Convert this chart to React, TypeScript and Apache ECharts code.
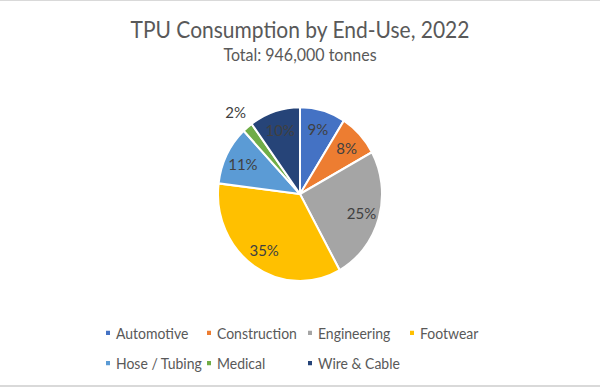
import React, { useEffect, useRef } from "react";
import * as echarts from "echarts";

// ---- data ----
const categories = [
  "Automotive",
  "Construction",
  "Engineering",
  "Footwear",
  "Hose / Tubing",
  "Medical",
  "Wire & Cable",
];
const tonnes = [85000, 76000, 236000, 331000, 104000, 19000, 95000];
const sliceColors = ["#4472C4", "#ED7D31", "#A5A5A5", "#FFC000", "#5B9BD5", "#70AD47", "#264478"];
const outsideLabelCategories = ["Medical"];
const titleText = "TPU Consumption by End-Use, 2022";
const subtitleText = "Total: 946,000 tonnes";

// ---- layout (chart units; the chart is stretched vertically) ----
const W = 600;
const H = 365;
const SCALE_Y = 387 / H;
const legendLeft = [104, 205, 306, 408, 104, 205, 306];
const legendRow = [0, 0, 0, 0, 1, 1, 1];
const legendRowTop = [306, 334.5];
const FONT = "Lato, 'Open Sans', sans-serif";

export default function App() {
  const ref = useRef<HTMLDivElement>(null);

  useEffect(() => {
    if (!ref.current) return;
    const chart = echarts.init(ref.current, undefined, { renderer: "svg" });
    const center = [300, 183];
    const R = 82;

    const baseData = categories.map((name, i) => ({
      name,
      value: tonnes[i],
      itemStyle: { color: sliceColors[i] },
    }));

    const labelStyle = {
      color: "#404040",
      fontSize: 15,
      fontFamily: FONT,
      formatter: "{d}%",
      position: "inside",
      rotate: 0,
    };

    const overlayInner = categories.map((name, i) => ({
      name,
      value: tonnes[i],
      itemStyle: { color: "rgba(0,0,0,0)" },
      label: { show: !outsideLabelCategories.includes(name) },
    }));
    const overlayOuter = categories.map((name, i) => ({
      name,
      value: tonnes[i],
      itemStyle: { color: "rgba(0,0,0,0)" },
      label: { show: outsideLabelCategories.includes(name) },
    }));

    const legends = categories.map((name, i) => ({
      left: legendLeft[i],
      top: legendRowTop[legendRow[i]],
      orient: "horizontal",
      padding: 0,
      itemWidth: 6,
      itemHeight: 6,
      icon: "rect",
      selectedMode: false,
      data: [{ name, itemStyle: { color: sliceColors[i] } }],
      textStyle: { fontFamily: FONT, fontSize: 14, color: "#595959", lineHeight: 16 },
    }));

    chart.setOption({
      animation: false,
      backgroundColor: "#ffffff",
      title: [
        {
          text: titleText,
          left: "center",
          top: 16,
          padding: 0,
          textStyle: { fontFamily: FONT, fontSize: 21, fontWeight: "normal", color: "#595959", lineHeight: 25 },
        },
        {
          text: subtitleText,
          left: "center",
          top: 42,
          padding: 0,
          textStyle: { fontFamily: FONT, fontSize: 16, fontWeight: "normal", color: "#595959", lineHeight: 19 },
        },
      ],
      legend: legends,
      series: [
        {
          type: "pie",
          center,
          radius: R,
          startAngle: 90,
          clockwise: true,
          silent: true,
          emphasis: { disabled: true },
          label: { show: false },
          labelLine: { show: false },
          itemStyle: { borderColor: "#ffffff", borderWidth: 2 },
          data: baseData,
        },
        {
          type: "pie",
          center,
          radius: [40, R],
          startAngle: 90,
          clockwise: true,
          silent: true,
          percentPrecision: 0,
          emphasis: { disabled: true },
          label: labelStyle,
          labelLine: { show: false },
          itemStyle: { borderWidth: 0 },
          data: overlayInner,
        },
        {
          type: "pie",
          center,
          radius: [R, 113],
          startAngle: 90,
          clockwise: true,
          silent: true,
          percentPrecision: 0,
          emphasis: { disabled: true },
          label: labelStyle,
          labelLine: { show: false },
          itemStyle: { borderWidth: 0 },
          data: overlayOuter,
        },
      ],
    });
    return () => chart.dispose();
  }, []);

  return (
    <div
      style={{
        position: "absolute",
        left: 0,
        top: 0,
        width: 600,
        height: 387,
        background: "#ffffff",
        overflow: "hidden",
      }}
    >
      <div
        ref={ref}
        style={{
          width: W,
          height: H,
          transform: `scaleY(${SCALE_Y})`,
          transformOrigin: "0 0",
        }}
      />
      <div style={{ position: "absolute", left: 0, top: 0, width: 600, height: 1, background: "#D9D9D9" }} />
      <div style={{ position: "absolute", left: 0, top: 385, width: 600, height: 2, background: "#D9D9D9" }} />
    </div>
  );
}
